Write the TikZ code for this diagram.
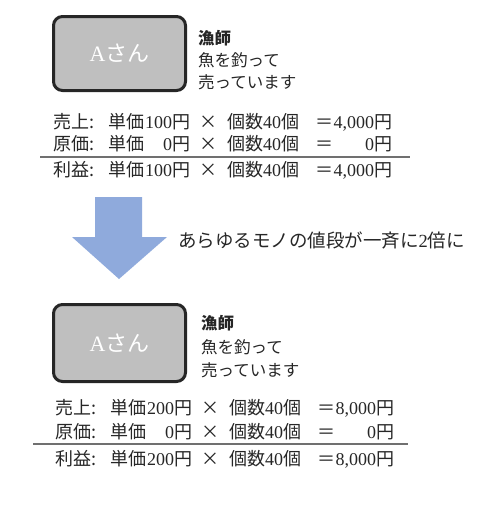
\documentclass[tikz,border=0pt]{standalone}
\usepackage{fontspec}
\setmainfont{Noto Sans CJK JP}
\newfontfamily\serifnum{Liberation Serif}
\usepackage{xcolor}
\usepackage{tikz}

\definecolor{boxgray}{HTML}{BFBFBF}
\definecolor{boxline}{HTML}{262626}
\definecolor{textgray}{HTML}{262626}
\definecolor{rulegray}{HTML}{707070}
\definecolor{arrowblue}{HTML}{8FAADC}

% one line of the sum: label, unit price, total
\newcommand{\sumline}[3]{\makebox[55pt][l]{#1}\makebox[64pt][l]{単価\hfill{\serifnum #2}}円\makebox[37pt]{×}\makebox[88pt][l]{個数{\serifnum 40}個}\makebox[59pt][l]{＝\hfill{\serifnum #3}}円}

\begin{document}
\begin{tikzpicture}[x=1pt,y=-1pt]
        \useasboundingbox (0,0) rectangle (500,515);

        \tikzstyle{personbox}=[draw=boxline,line width=3pt,fill=boxgray,rounded corners=9pt,minimum width=132pt,minimum height=74pt,text=white,font=\fontsize{22}{26}\selectfont]
        \tikzstyle{jobtext}=[anchor=west,inner sep=0pt,text=textgray,font=\fontsize{16.5}{20}\selectfont]
        \tikzstyle{calcrow}=[anchor=west,inner sep=0pt,text=textgray,font=\fontsize{18}{22}\selectfont]
        \tikzstyle{sumrule}=[draw=rulegray,line width=2pt]

        %% before
        \node [personbox] (abox1) at (119.5,53.5) {{\serifnum A}さん};
        \node [jobtext,font=\fontsize{16.5}{20}\bfseries] (job1) at (198,38) {漁師};
        \node [jobtext] (fish1) at (198,60) {魚を釣って};
        \node [jobtext] (sell1) at (198,82) {売っています};

        \node [calcrow] (sales1) at (53,122) {\sumline{売上:}{100}{4,000}};
        \node [calcrow] (cost1) at (53,144) {\sumline{原価:}{0}{0}};
        \draw [sumrule] (40,157) -- (410,157);
        \node [calcrow] (profit1) at (53,170) {\sumline{利益:}{100}{4,000}};

        %% arrow
        \fill [arrowblue] (95,197) -- (142,197) -- (142,237) -- (167,237) -- (119,279) -- (72,237) -- (95,237) -- cycle;
        \node [jobtext,font=\fontsize{18.5}{22}\selectfont] (double) at (178,240) {あらゆるモノの値段が一斉に{\serifnum 2}倍に};

        %% after
        \node [personbox,minimum height=77pt] (abox2) at (119.5,343) {{\serifnum A}さん};
        \node [jobtext,font=\fontsize{16.5}{20}\bfseries] (job2) at (201,323) {漁師};
        \node [jobtext] (fish2) at (201,347) {魚を釣って};
        \node [jobtext] (sell2) at (201,370) {売っています};

        \node [calcrow] (sales2) at (55,408) {\sumline{売上:}{200}{8,000}};
        \node [calcrow] (cost2) at (55,432) {\sumline{原価:}{0}{0}};
        \draw [sumrule] (33,444) -- (408,444);
        \node [calcrow] (profit2) at (55,459) {\sumline{利益:}{200}{8,000}};

\end{tikzpicture}
\end{document}
